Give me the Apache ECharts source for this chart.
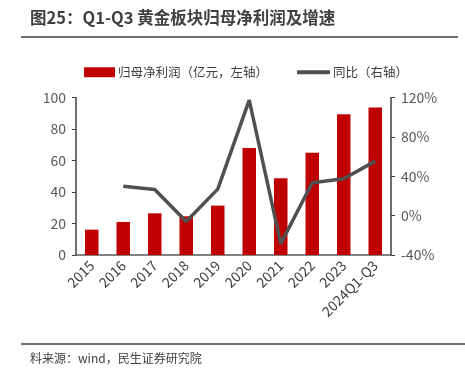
<!DOCTYPE html>
<html><head><meta charset="utf-8">
<script src="https://cdn.jsdelivr.net/npm/echarts@6/dist/echarts.min.js"></script>
<style>html,body{margin:0;padding:0;background:#fff}#c{width:465px;height:374px}</style>
</head><body><div id="c"></div>
<script>
const categories = ['2015','2016','2017','2018','2019','2020','2021','2022','2023','2024Q1-Q3'];
const profit = [16.1, 21, 26.5, 24.6, 31.4, 68, 48.8, 65, 89.4, 93.8];
const growth = [null, 30, 26.7, -6, 27, 117.5, -28.4, 33.5, 37.5, 55.5];
const leftTicks = [0, 20, 40, 60, 80, 100];
const rightTicks = [-40, 0, 40, 80, 120];
const FONT = '"Noto Sans CJK SC", "Noto Sans", sans-serif';
const chart = echarts.init(document.getElementById('c'));
chart.setOption({
  animation: false,
  textStyle: { fontFamily: FONT },
  grid: { left: 76, right: 74, top: 97.7, bottom: 119, containLabel: false },
  legend: [
    {
      left: 79, top: 61, itemWidth: 31, itemHeight: 10,
      textStyle: { fontSize: 12.5, color: '#404040', fontFamily: FONT, padding: [0,0,0,-2] },
      data: [{ name: '归母净利润（亿元，左轴）', icon: 'rect' }]
    },
    {
      left: 292, top: 61, itemWidth: 33, itemHeight: 4,
      textStyle: { fontSize: 12.5, color: '#404040', fontFamily: FONT, padding: [0,0,0,-2] },
      data: [{ name: '同比（右轴）', icon: 'roundRect', itemStyle: { color: '#505050' } }]
    }
  ],
  graphic: [
    { type: 'text', left: 30, top: 9, style: { text: '图25：Q1-Q3 黄金板块归母净利润及增速', font: 'bold 16.5px ' + FONT, fill: '#404040' } },
    { type: 'line', shape: { x1: 21, y1: 37, x2: 458, y2: 37 }, style: { stroke: '#707070', lineWidth: 2 } },
    { type: 'line', shape: { x1: 21, y1: 344, x2: 465, y2: 344 }, style: { stroke: '#707070', lineWidth: 2 } },
    { type: 'text', left: 30, top: 352, style: { text: '料来源：wind，民生证券研究院', font: '12px ' + FONT, fill: '#404040' } }
  ],
  xAxis: {
    type: 'category', data: categories,
    axisLine: { lineStyle: { color: '#595959', width: 1.5 } },
    axisTick: { show: false },
    axisLabel: { rotate: 45, fontSize: 14, color: '#404040', margin: 8, interval: 0 }
  },
  yAxis: [
    {
      type: 'value', min: 0, max: 100, interval: 20,
      axisLine: { show: true, lineStyle: { color: '#404040', width: 1.5 } },
      axisTick: { show: true, length: 4, lineStyle: { color: '#404040' } },
      splitLine: { show: false },
      axisLabel: { fontSize: 14, color: '#595959', margin: 10 }
    },
    {
      type: 'value', min: -40, max: 120, interval: 40,
      axisLine: { show: true, lineStyle: { color: '#404040', width: 1.5 } },
      axisTick: { show: true, length: 4, lineStyle: { color: '#404040' } },
      splitLine: { show: false },
      axisLabel: { fontSize: 14, color: '#595959', margin: 10, formatter: '{value}%' }
    }
  ],
  series: [
    {
      name: '归母净利润（亿元，左轴）', type: 'bar', data: profit, barWidth: 13.5,
      itemStyle: { color: '#C00000' }, yAxisIndex: 0
    },
    {
      name: '同比（右轴）', type: 'line', data: growth, yAxisIndex: 1,
      symbol: 'none', lineStyle: { color: '#505050', width: 3.5 }, itemStyle: { color: '#505050' },
      connectNulls: false
    }
  ]
});
</script></body></html>
